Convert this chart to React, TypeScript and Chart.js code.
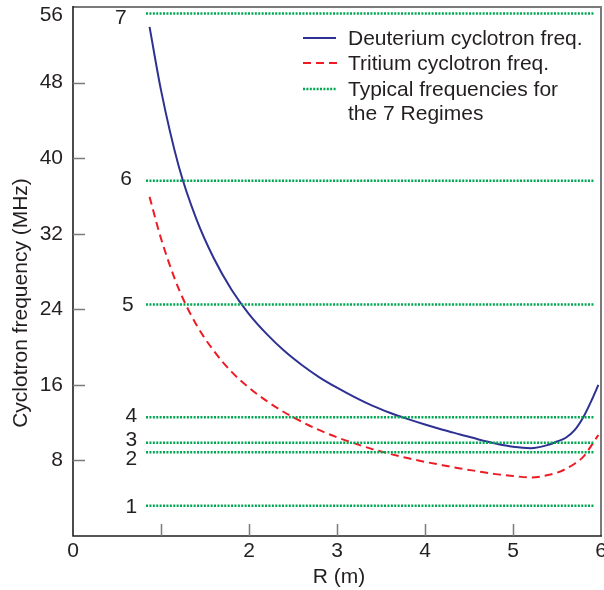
import React, { useEffect, useRef } from 'react';
import { Chart, registerables } from 'chart.js';

Chart.register(...registerables);

// Major radius R (m)
const radius = [0.87, 1.0, 1.2, 1.4, 1.6, 1.8, 2.0, 2.2, 2.4, 2.6, 2.8, 3.0, 3.2, 3.4, 3.6, 3.8, 4.0, 4.2, 4.4, 4.6, 4.8, 5.0, 5.2, 5.4, 5.5, 5.6, 5.7, 5.8, 5.9, 5.97];
// Deuterium cyclotron frequency (MHz)
const deuterium = [53.9, 47.2, 39.2, 33.6, 29.4, 26.1, 23.5, 21.4, 19.6, 18.1, 16.8, 15.7, 14.7, 13.8, 13.05, 12.4, 11.8, 11.25, 10.75, 10.25, 9.8, 9.45, 9.3, 9.65, 10.0, 10.4, 11.2, 12.6, 14.5, 16.0];
// Tritium cyclotron frequency (MHz)
const tritium = [35.9, 31.5, 26.2, 22.4, 19.6, 17.4, 15.7, 14.3, 13.1, 12.1, 11.2, 10.45, 9.8, 9.2, 8.7, 8.25, 7.85, 7.5, 7.15, 6.85, 6.55, 6.35, 6.2, 6.45, 6.7, 7.1, 7.65, 8.4, 9.7, 10.7];
// Typical frequencies for the 7 regimes (MHz)
const regimeFreqs = [3.2, 8.86, 9.88, 12.57, 24.5, 37.6, 55.3];
const regimeNames = ['1', '2', '3', '4', '5', '6', '7'];
const regimeSpan = [0.83, 5.93];

const xTickValues = [0, 1, 2, 3, 4, 5, 6];
const xTickLabels = ['0', '', '2', '3', '4', '5', '6'];
const yTickValues = [0, 8, 16, 24, 32, 40, 48, 56];
const yTickLabels = ['', '8', '16', '24', '32', '40', '48', '56'];

const legendItems = ['Deuterium cyclotron freq.', 'Tritium cyclotron freq.', 'Typical frequencies for', 'the 7 Regimes'];

const FONT = '"Liberation Sans", Arial, Helvetica, sans-serif';
const TEXT = '#231f20';
const BLUE = '#2e3192';
const RED = '#ed1c24';
const GREEN = '#00a651';

// placement of the regime numbers (right edge in data units, vertical nudge in px)
const regimeLabelX = [0.73, 0.73, 0.73, 0.73, 0.69, 0.67, 0.61];
const regimeLabelDy = [0, 6, -3, -2, 0, -3, 4];

const decorPlugin = {
  id: 'decor',
  afterDraw(chart: any) {
    const ctx = chart.ctx as CanvasRenderingContext2D;
    const { left, right, top, bottom } = chart.chartArea;
    const xs = chart.scales.x;
    const ys = chart.scales.y;
    ctx.save();
    // frame
    ctx.lineCap = 'butt';
    ctx.strokeStyle = '#7a7a7a';
    ctx.lineWidth = 2;
    ctx.beginPath();
    ctx.moveTo(left, top);
    ctx.lineTo(right, top);
    ctx.lineTo(right, bottom);
    ctx.stroke();
    ctx.strokeStyle = '#231f20';
    ctx.lineWidth = 1.6;
    ctx.beginPath();
    ctx.moveTo(left, top - 1);
    ctx.lineTo(left, bottom);
    ctx.lineTo(right + 1, bottom);
    ctx.stroke();
    // inward ticks
    ctx.strokeStyle = '#7a7a7a';
    ctx.lineWidth = 1.5;
    xTickValues.forEach((v) => {
      if (v === 0 || v === 6) return;
      const px = Math.round(xs.getPixelForValue(v)) + 0.5;
      ctx.beginPath();
      ctx.moveTo(px, bottom);
      ctx.lineTo(px, bottom - 12);
      ctx.stroke();
    });
    yTickValues.forEach((v) => {
      if (v === 0 || v === 56) return;
      const py = Math.round(ys.getPixelForValue(v)) + 0.5;
      ctx.beginPath();
      ctx.moveTo(left, py);
      ctx.lineTo(left + 12, py);
      ctx.stroke();
    });
    ctx.fillStyle = TEXT;
    ctx.font = `21px ${FONT}`;
    // top y tick label, kept inside the picture
    ctx.textAlign = 'right';
    ctx.textBaseline = 'middle';
    ctx.fillText(yTickLabels[yTickLabels.length - 1], left - 10, top + 8);
    // regime numbers
    regimeFreqs.forEach((f, i) => {
      const px = xs.getPixelForValue(regimeLabelX[i]);
      const py = ys.getPixelForValue(f) + regimeLabelDy[i];
      ctx.fillText(regimeNames[i], px, py + 1);
    });
    // legend
    const lx0 = 303, lx1 = 336, tx = 348;
    const rows = [38, 63, 89, 113];
    ctx.lineWidth = 2;
    ctx.strokeStyle = BLUE;
    ctx.setLineDash([]);
    ctx.beginPath();
    ctx.moveTo(lx0, rows[0]);
    ctx.lineTo(lx1, rows[0]);
    ctx.stroke();
    ctx.strokeStyle = RED;
    ctx.lineWidth = 2;
    ctx.setLineDash([8, 5]);
    ctx.beginPath();
    ctx.moveTo(lx0, rows[1]);
    ctx.lineTo(lx1 + 2, rows[1]);
    ctx.stroke();
    ctx.strokeStyle = GREEN;
    ctx.lineWidth = 2.5;
    ctx.setLineDash([2, 1.4]);
    ctx.beginPath();
    ctx.moveTo(lx0, rows[2]);
    ctx.lineTo(lx1, rows[2]);
    ctx.stroke();
    ctx.setLineDash([]);
    ctx.textAlign = 'left';
    legendItems.forEach((t, i) => ctx.fillText(t, tx, rows[i] + 1));
    // axis titles
    ctx.textAlign = 'center';
    ctx.fillText('R (m)', (left + right) / 2 + 2, 577);
    ctx.save();
    ctx.translate(21, 303);
    ctx.rotate(-Math.PI / 2);
    ctx.fillText('Cyclotron frequency (MHz)', 0, 0);
    ctx.restore();
    ctx.restore();
  },
};

export default function App() {
  const ref = useRef<HTMLCanvasElement | null>(null);
  useEffect(() => {
    if (!ref.current) return;
    const regimeSets = regimeFreqs.map((f, i) => ({
      label: `Regime ${regimeNames[i]}`,
      data: [
        { x: regimeSpan[0], y: f },
        { x: regimeSpan[1], y: f },
      ],
      borderColor: GREEN,
      borderWidth: 2.5,
      borderDash: [2, 1.4],
      borderCapStyle: 'butt' as const,
      pointRadius: 0,
      fill: false,
    }));
    const chart = new Chart(ref.current, {
      type: 'line',
      data: {
        datasets: [
          ...regimeSets,
          {
            label: 'Tritium cyclotron freq.',
            data: radius.map((r, i) => ({ x: r, y: tritium[i] })),
            borderColor: RED,
            borderWidth: 2,
            borderDash: [8, 5],
            pointRadius: 0,
            cubicInterpolationMode: 'monotone',
            fill: false,
          },
          {
            label: 'Deuterium cyclotron freq.',
            data: radius.map((r, i) => ({ x: r, y: deuterium[i] })),
            borderColor: BLUE,
            borderWidth: 2,
            pointRadius: 0,
            cubicInterpolationMode: 'monotone',
            fill: false,
          },
        ],
      },
      options: {
        responsive: false,
        animation: false,
        layout: { padding: { left: 0, top: 7, right: 3, bottom: 0 } },
        plugins: { legend: { display: false }, tooltip: { enabled: false } },
        scales: {
          x: {
            type: 'linear',
            min: 0,
            max: 6,
            afterFit: (s: any) => {
              s.height = 54;
              s.paddingLeft = 0;
              s.paddingRight = 0;
            },
            afterBuildTicks: (s: any) => {
              s.ticks = xTickValues.map((v) => ({ value: v }));
            },
            grid: { display: false, drawTicks: false },
            border: { display: false },
            ticks: {
              padding: 3,
              maxRotation: 0,
              autoSkip: false,
              color: TEXT,
              font: { family: FONT, size: 21 },
              callback: (v: any) => xTickLabels[xTickValues.indexOf(Number(v))] ?? '',
            },
          },
          y: {
            type: 'linear',
            min: 0,
            max: 56,
            afterFit: (s: any) => {
              s.width = 73;
              s.paddingTop = 0;
              s.paddingBottom = 0;
            },
            afterBuildTicks: (s: any) => {
              s.ticks = yTickValues.map((v) => ({ value: v }));
            },
            grid: { display: false, drawTicks: false },
            border: { display: false },
            ticks: {
              padding: 10,
              autoSkip: false,
              color: TEXT,
              font: { family: FONT, size: 21 },
              callback: (v: any) => {
                const n = Number(v);
                if (n === 56) return '';
                return yTickLabels[yTickValues.indexOf(n)] ?? '';
              },
            },
          },
        },
      },
      plugins: [decorPlugin],
    } as any);
    return () => chart.destroy();
  }, []);
  return (
    <div style={{ position: 'absolute', left: 0, top: 0, width: 604, height: 590, background: '#fff' }}>
      <canvas ref={ref} width={604} height={590} />
    </div>
  );
}
